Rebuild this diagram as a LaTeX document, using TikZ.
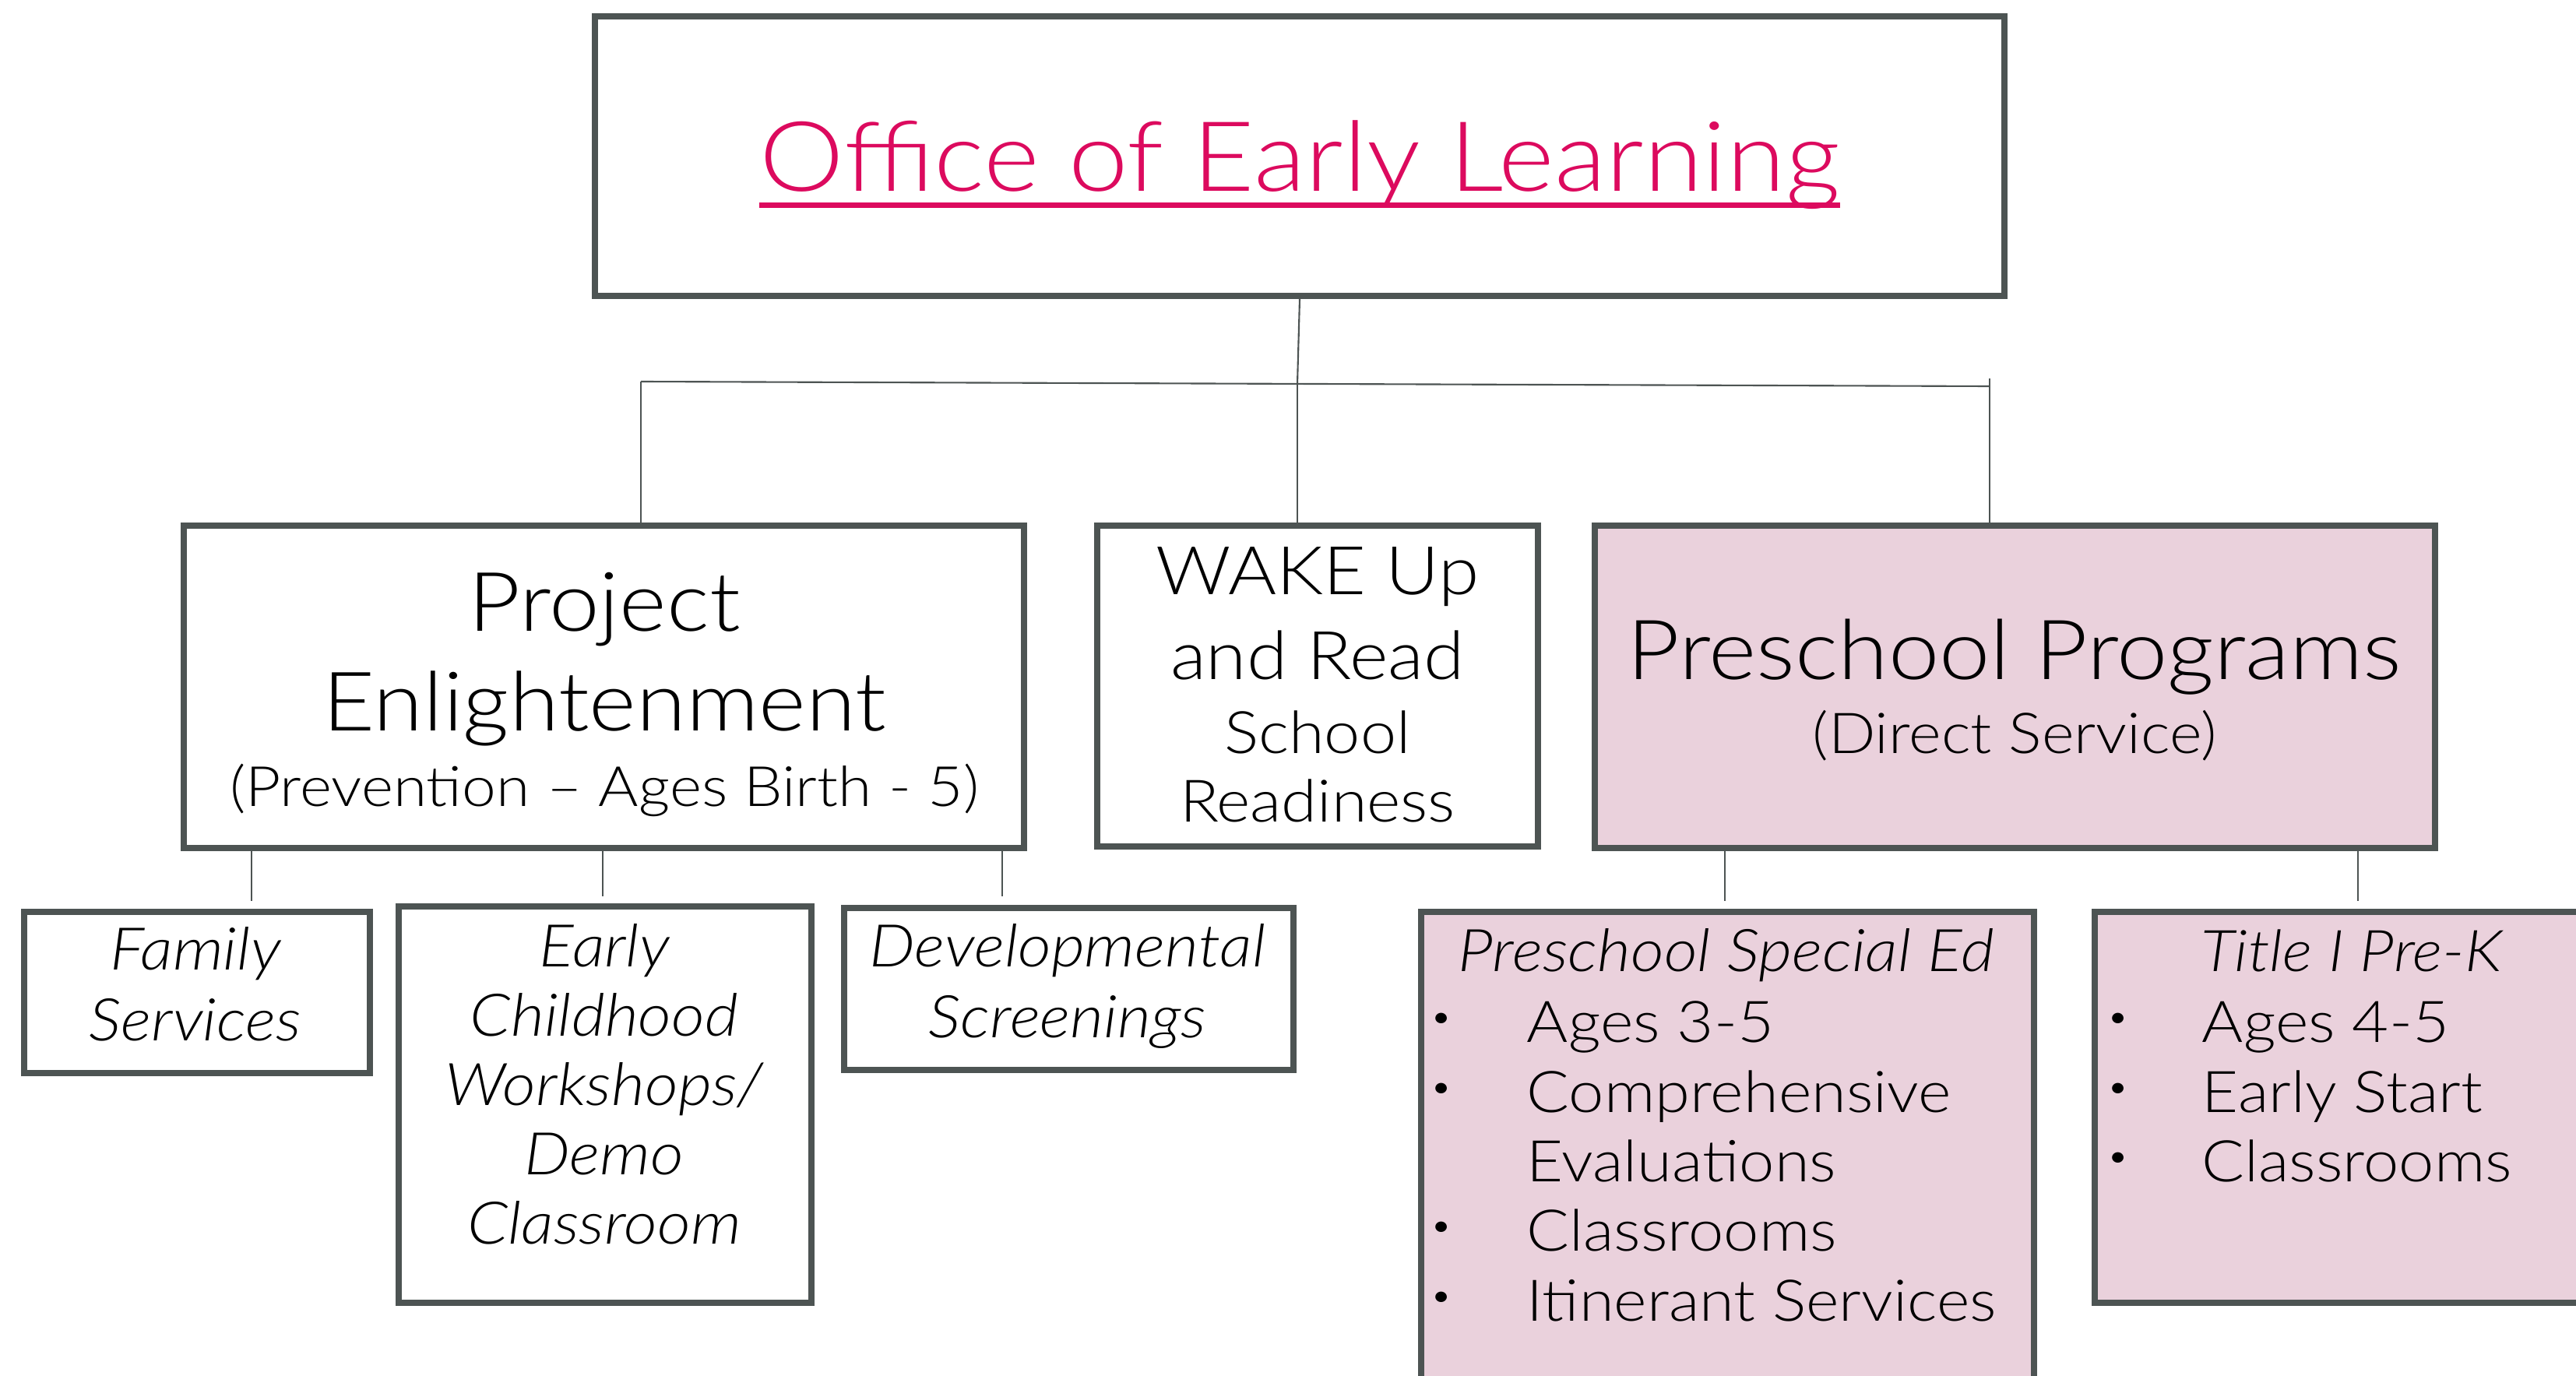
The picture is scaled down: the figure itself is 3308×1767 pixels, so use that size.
\documentclass[tikz,border=0pt]{standalone}
\usepackage{fontspec}
\setmainfont{Lato}[FakeStretch=1.1, UprightFont=* Light, ItalicFont=* Light Italic]
\usetikzlibrary{fit}
\definecolor{bord}{RGB}{77,84,83}
\definecolor{pinkf}{RGB}{234,209,220}
\definecolor{mag}{RGB}{220,10,94}
\newcommand\fsz[1]{\fontsize{#1}{#1}\selectfont}
\begin{document}
\begin{tikzpicture}[x=0.01cm,y=-0.01cm,
  box/.style={draw=bord,line width=2.3pt,inner sep=0pt},
  pbox/.style={box,fill=pinkf},
  conn/.style={draw=bord,line width=0.6pt},
  txt/.style={inner sep=0pt,anchor=base},
  ltxt/.style={inner sep=0pt,anchor=base west},
  bul/.style={inner sep=0pt,anchor=center,font=\fsz{13}}]
\clip (0,0) rectangle (3308,1767);
\fill[white] (0,0) rectangle (3308,1767);
% boxes
\node[box,fit={(764,21)(2574,380)}] (top) {};
\node[box,fit={(236,675)(1315,1089)}] (pe) {};
\node[box,fit={(1409,675)(1975,1087)}] (wake) {};
\node[pbox,fit={(2048,675)(3127,1089)}] (pp) {};
\node[box,fit={(31,1171)(475,1378)}] (fs) {};
\node[box,fit={(512,1164)(1042,1673)}] (ec) {};
\node[box,fit={(1084,1166)(1661,1374)}] (ds) {};
\node[pbox,fit={(1825,1171)(2612,1800)}] (pse) {};
\node[pbox,fit={(2690,1171)(3340,1673)}] (t1) {};
% connectors
\coordinate (hl) at (823,490);
\coordinate (hm) at (1666,493);
\coordinate (hr) at (2555,496);
\coordinate (hrt) at (2555,486);
\draw[conn] (top.south) -- (hm);
\draw[conn] (hl) -- (hr);
\draw[conn] (hl) -- (hl |- pe.north);
\draw[conn] (hm) -- (hm |- wake.north);
\draw[conn] (hrt) -- (hrt |- pp.north);
\coordinate (cfs) at (323,1157);
\coordinate (cec) at (774,1151);
\coordinate (cds) at (1287,1151);
\coordinate (cpse) at (2215,1157);
\coordinate (ct1) at (3028,1157);
\draw[conn] (pe.south -| cfs) -- (cfs);
\draw[conn] (pe.south -| cec) -- (cec);
\draw[conn] (pe.south -| cds) -- (cds);
\draw[conn] (pp.south -| cpse) -- (cpse);
\draw[conn] (pp.south -| ct1) -- (ct1);
% title
\node[txt,text=mag,font=\fsz{35.5}] (title) at (1669,246) {Office of Early Learning};
\draw[mag,line width=1.85pt] ([yshift=-0.175cm]title.base west) -- ([yshift=-0.175cm]title.base east);
% Project Enlightenment
\node[txt,font=\fsz{30}] (pe1) at (776,810) {Project};
\node[txt,font=\fsz{30}] (pe2) at (776,938) {Enlightenment};
\node[txt,font=\fsz{20.3}] (pe3) at (776,1035) {(Prevention – Ages Birth - 5)};
% WAKE
\node[txt,font=\fsz{24.5}] (wk1) at (1692,764) {WAKE Up};
\node[txt,font=\fsz{24.5}] (wk2) at (1692,872) {and Read};
\node[txt,font=\fsz{21.4}] (wk3) at (1692,967) {School};
\node[txt,font=\fsz{21.4}] (wk4) at (1692,1055) {Readiness};
% Preschool Programs
\node[txt,font=\fsz{30.3}] (pp1) at (2587,872) {Preschool Programs};
\node[txt,font=\fsz{20.6}] (pp2) at (2587,967) {(Direct Service)};
% Family Services
\node[txt,font=\fsz{21.5}\itshape] (fs1) at (251,1245) {Family};
\node[txt,font=\fsz{21.5}\itshape] (fs2) at (251,1336) {Services};
% Early Childhood
\node[txt,font=\fsz{21.5}\itshape] (ec1) at (776,1241) {Early};
\node[txt,font=\fsz{21.5}\itshape] (ec2) at (776,1330) {Childhood};
\node[txt,font=\fsz{21.5}\itshape] (ec3) at (776,1419) {Workshops/};
\node[txt,font=\fsz{21.5}\itshape] (ec4) at (776,1508) {Demo};
\node[txt,font=\fsz{21.5}\itshape] (ec5) at (776,1597) {Classroom};
% Developmental
\node[txt,font=\fsz{21.5}\itshape] (ds1) at (1371,1241) {Developmental};
\node[txt,font=\fsz{21.5}\itshape] (ds2) at (1371,1332) {Screenings};
% Preschool Special Ed
\node[txt,font=\fsz{21.5}\itshape] (pset) at (2217,1247) {Preschool Special Ed};
\node[bul] (pseb1) at (1851,1311) {•};
\node[ltxt,font=\fsz{21}] (psei1) at (1960,1338) {Ages 3-5};
\node[bul] (pseb2) at (1851,1401) {•};
\node[ltxt,font=\fsz{21}] (psei2) at (1960,1428) {Comprehensive};
\node[ltxt,font=\fsz{21}] (psei3) at (1960,1517) {Evaluations};
\node[bul] (pseb4) at (1851,1579) {•};
\node[ltxt,font=\fsz{21}] (psei4) at (1960,1606) {Classrooms};
\node[bul] (pseb5) at (1851,1669) {•};
\node[ltxt,font=\fsz{21}] (psei5) at (1960,1696) {Itinerant Services};
% Title I
\node[txt,font=\fsz{21}\itshape] (t1t) at (3020,1247) {Title I Pre-K};
\node[bul] (t1b1) at (2720,1311) {•};
\node[ltxt,font=\fsz{21}] (t1i1) at (2827,1338) {Ages 4-5};
\node[bul] (t1b2) at (2720,1401) {•};
\node[ltxt,font=\fsz{21}] (t1i2) at (2827,1428) {Early Start};
\node[bul] (t1b3) at (2720,1490) {•};
\node[ltxt,font=\fsz{21}] (t1i3) at (2827,1517) {Classrooms};
\end{tikzpicture}
\end{document}
